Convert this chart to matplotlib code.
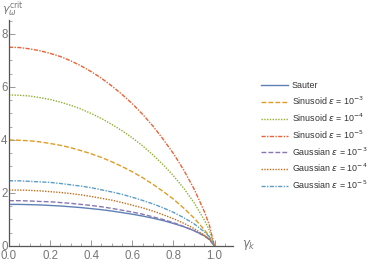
import numpy as np
import matplotlib
matplotlib.use("Agg")
import matplotlib.pyplot as plt
from matplotlib.ticker import MultipleLocator

# gamma_k grid and curves
gamma_k = [0.0, 0.05, 0.1, 0.15, 0.2, 0.25, 0.3, 0.35, 0.4, 0.45, 0.5,
           0.55, 0.6, 0.65, 0.7, 0.75, 0.8, 0.85, 0.9, 0.95, 0.975, 1.0]

sauter = [1.57, 1.57, 1.56, 1.55, 1.53, 1.51, 1.48, 1.45, 1.41, 1.37, 1.32,
          1.26, 1.20, 1.13, 1.05, 0.96, 0.85, 0.73, 0.58, 0.39, 0.26, 0.0]
sin_e3 = [4.00, 3.99, 3.97, 3.93, 3.87, 3.80, 3.71, 3.60, 3.48, 3.34, 3.18,
          3.00, 2.80, 2.58, 2.33, 2.06, 1.77, 1.43, 1.06, 0.62, 0.36, 0.0]
sin_e4 = [5.70, 5.69, 5.66, 5.60, 5.53, 5.43, 5.31, 5.17, 5.00, 4.81, 4.59,
          4.35, 4.08, 3.78, 3.44, 3.07, 2.65, 2.18, 1.64, 0.99, 0.60, 0.0]
sin_e5 = [7.50, 7.49, 7.44, 7.37, 7.27, 7.15, 6.99, 6.80, 6.58, 6.33, 6.04,
          5.72, 5.37, 4.97, 4.53, 4.03, 3.49, 2.87, 2.16, 1.31, 0.79, 0.0]
gau_e3 = [1.71, 1.71, 1.70, 1.68, 1.67, 1.64, 1.61, 1.57, 1.53, 1.48, 1.42,
          1.35, 1.28, 1.20, 1.10, 1.00, 0.88, 0.74, 0.58, 0.38, 0.24, 0.0]
gau_e4 = [2.11, 2.11, 2.10, 2.08, 2.05, 2.02, 1.98, 1.93, 1.87, 1.80, 1.73,
          1.64, 1.54, 1.44, 1.32, 1.18, 1.03, 0.86, 0.66, 0.41, 0.26, 0.0]
gau_e5 = [2.46, 2.46, 2.44, 2.42, 2.40, 2.36, 2.31, 2.26, 2.20, 2.12, 2.04,
          1.95, 1.84, 1.72, 1.59, 1.44, 1.27, 1.07, 0.84, 0.54, 0.35, 0.0]

labels = ["Sauter",
          r"Sinusoid $\epsilon$ = 10$^{-3}$",
          r"Sinusoid $\epsilon$ = 10$^{-4}$",
          r"Sinusoid $\epsilon$ = 10$^{-5}$",
          r"Gaussian $\epsilon$ = 10$^{-3}$",
          r"Gaussian $\epsilon$ = 10$^{-4}$",
          r"Gaussian $\epsilon$ = 10$^{-5}$"]

plt.rcParams['font.family'] = ['Liberation Sans', 'DejaVu Sans']
plt.rcParams['mathtext.fontset'] = 'dejavusans'

fig = plt.figure(figsize=(3.74, 2.65), dpi=100)
ax = fig.add_axes([0.024, 0.0717, 0.599, 0.853])

series = [sauter, sin_e3, sin_e4, sin_e5, gau_e3, gau_e4, gau_e5]
colors = ['#5E81B5', '#E19C24', '#8FB032', '#EB6235',
          '#8778B3', '#C56E1A', '#5D9EC7']
styles = ['-', (0, (3.5, 1.5)), (0, (1, 1)), (0, (3, 1, 1, 1)),
          (0, (3.5, 1.5)), (0, (1, 1)), (0, (3, 1, 1, 1))]

for y, c, ls, lab in zip(series, colors, styles, labels):
    ax.plot(gamma_k, y, color=c, linestyle=ls, lw=1.0, label=lab)

ax.set_xlim(0, 1.09)
ax.set_ylim(0, 8.53)
ax.xaxis.set_major_locator(MultipleLocator(0.2))
ax.xaxis.set_minor_locator(MultipleLocator(0.05))
ax.yaxis.set_major_locator(MultipleLocator(2))
ax.yaxis.set_minor_locator(MultipleLocator(0.5))
ax.xaxis.set_major_formatter(plt.FormatStrFormatter('%.1f'))

for s in ['top', 'right']:
    ax.spines[s].set_visible(False)
for s in ['left', 'bottom']:
    ax.spines[s].set_color('#555555')
    ax.spines[s].set_linewidth(0.9)
ax.patch.set_alpha(0)

ax.tick_params(which='both', direction='in', colors='#888888',
               labelcolor='#777777', labelsize=8.3)
ax.tick_params(which='major', length=4, width=0.6, pad=2.6)
ax.tick_params(which='minor', length=2, width=0.5)
ax.tick_params(axis='y', pad=1)

fig.text(0.005, 0.965, r"$\gamma_\omega^{\rm crit}$", color='#777777',
         fontsize=8, va='center', ha='left')
fig.text(0.648, 0.075, r"$\gamma_k$", color='#777777',
         fontsize=8.5, va='center', ha='left')

leg = ax.legend(loc='upper left', bbox_to_anchor=(1.11, 0.745),
                frameon=False, fontsize=6.4, handlelength=3.0,
                labelspacing=0.5, handletextpad=0.45, borderaxespad=0)
for t in leg.get_texts():
    t.set_color('#333333')

fig.savefig("out.png", dpi=100)
